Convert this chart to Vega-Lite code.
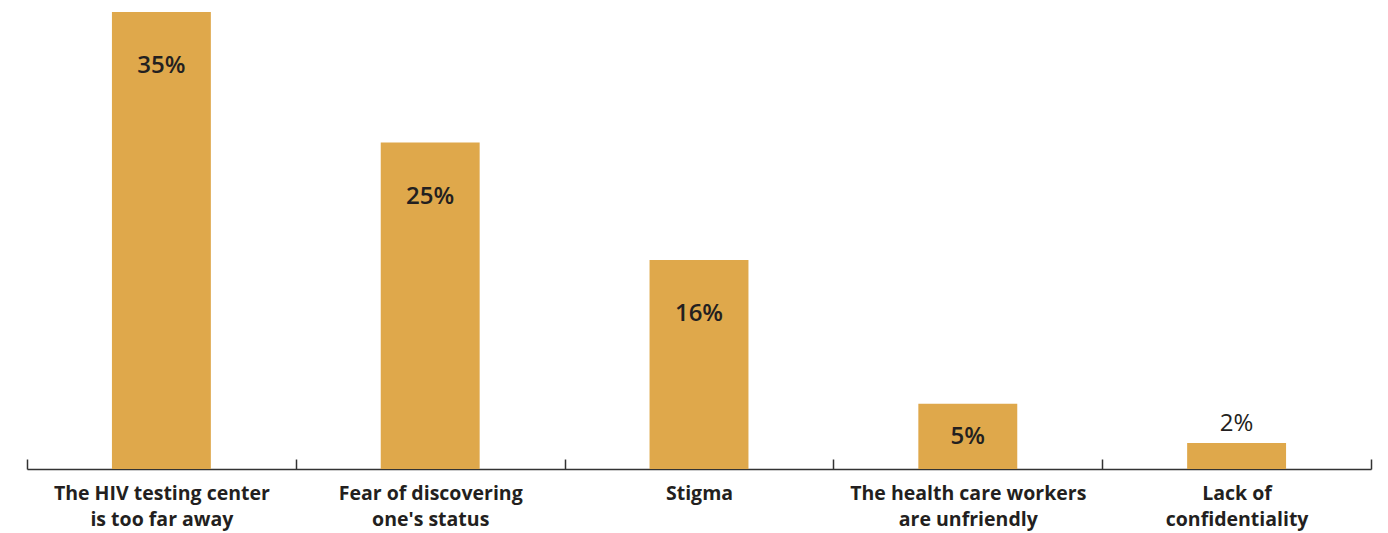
{
  "$schema": "https://vega.github.io/schema/vega-lite/v6.json",
  "width": 1344,
  "height": 457,
  "padding": {"left": 26, "top": 12, "right": 18, "bottom": 40},
  "background": "white",
  "config": {"view": {"stroke": null}, "font": "Open Sans"},
  "data": {
    "values": [
      {"reason": "The HIV testing center|is too far away", "value": 35, "label": "35%"},
      {"reason": "Fear of discovering|one's status", "value": 25, "label": "25%"},
      {"reason": "Stigma", "value": 16, "label": "16%"},
      {"reason": "The health care workers|are unfriendly", "value": 5, "label": "5%"},
      {"reason": "Lack of|confidentiality", "value": 2, "label": "2%"}
    ]
  },
  "encoding": {
    "x": {
      "field": "reason",
      "type": "nominal",
      "sort": null,
      "scale": {"paddingInner": 0, "paddingOuter": 0},
      "axis": {
        "title": null,
        "labelAngle": 0,
        "labelExpr": "split(datum.label, '|')",
        "labelFont": "Open Sans",
        "labelFontWeight": "bold",
        "labelFontSize": 19.5,
        "labelLimit": 0,
        "labelColor": "#231f20",
        "labelLineHeight": 26,
        "labelPadding": 25,
        "tickBand": "extent",
        "tickSize": -10,
        "tickColor": "#333333",
        "tickWidth": 1.5,
        "domainColor": "#333333",
        "domainWidth": 1.5
      }
    },
    "y": {
      "field": "value",
      "type": "quantitative",
      "scale": {"domain": [0, 35], "nice": false},
      "axis": null
    }
  },
  "layer": [
    {
      "mark": {"type": "bar", "color": "#dfa84b", "width": {"band": 0.368}}
    },
    {
      "transform": [{"filter": "datum.value >= 10"}],
      "mark": {"type": "text", "baseline": "middle", "dy": 54, "fontSize": 24, "fontWeight": 600, "color": "#231f20", "font": "Open Sans"},
      "encoding": {"text": {"field": "label"}}
    },
    {
      "transform": [{"filter": "datum.value >= 5 && datum.value < 10"}],
      "mark": {"type": "text", "baseline": "middle", "dy": 33, "fontSize": 24, "fontWeight": 600, "color": "#231f20", "font": "Open Sans"},
      "encoding": {"text": {"field": "label"}}
    },
    {
      "transform": [{"filter": "datum.value < 5"}],
      "mark": {"type": "text", "baseline": "middle", "dy": -19, "fontSize": 24, "fontWeight": "normal", "color": "#231f20", "font": "Open Sans"},
      "encoding": {"text": {"field": "label"}}
    }
  ]
}
